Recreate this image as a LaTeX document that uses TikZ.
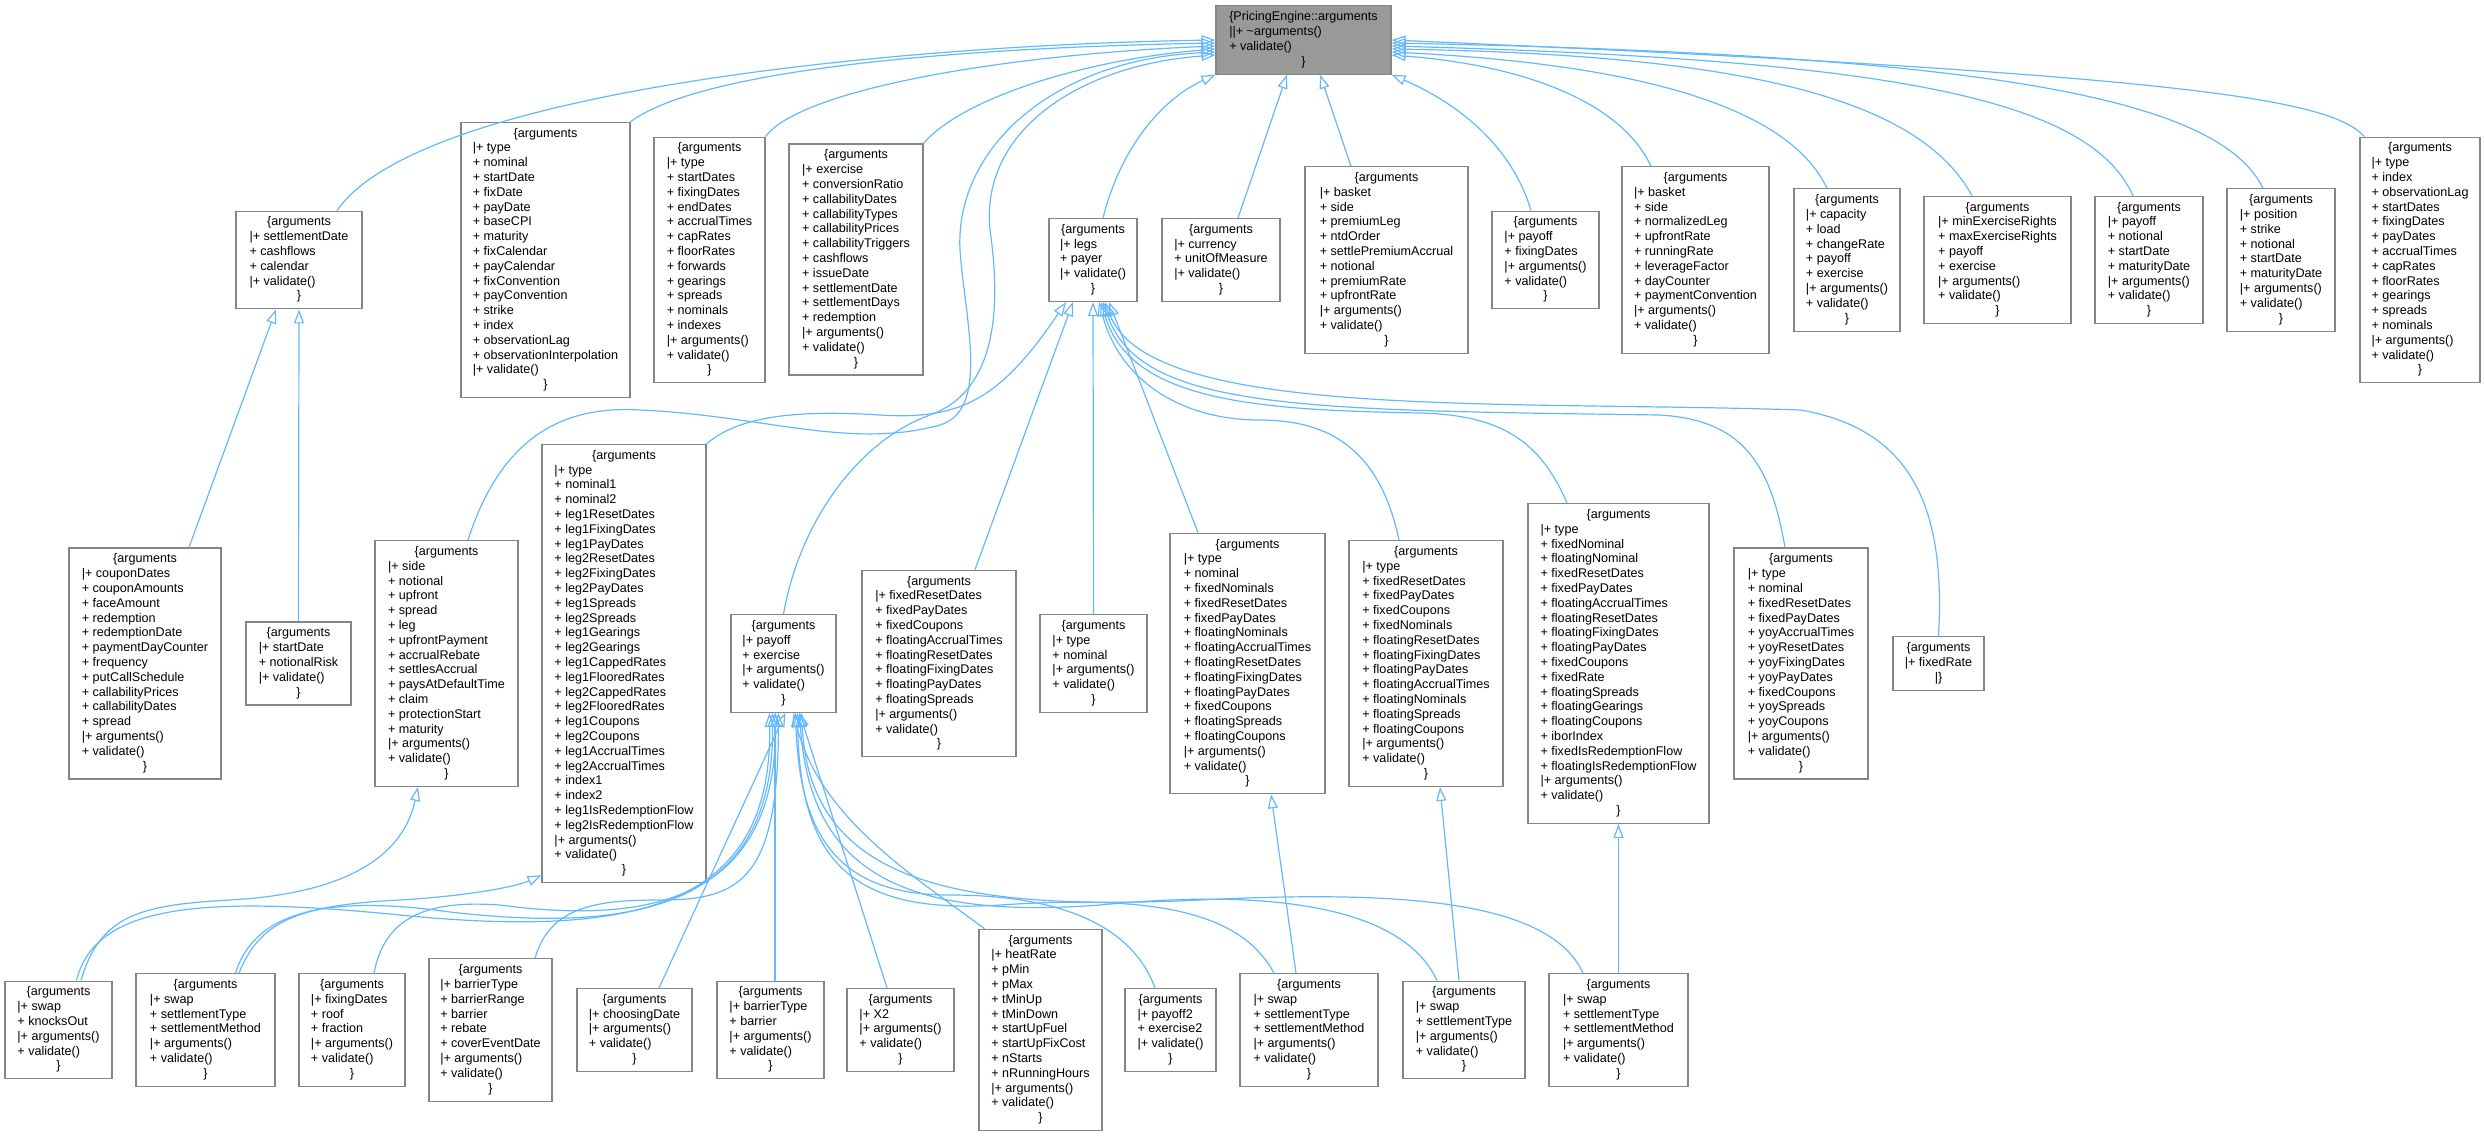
\documentclass[tikz,border=0pt]{standalone}
\usepackage{fontspec}
\setmainfont{Liberation Sans}
\usetikzlibrary{arrows.meta}
\definecolor{edgeblue}{HTML}{63B8FF}
\definecolor{boxgray}{HTML}{858585}
\definecolor{basegray}{HTML}{999999}
\newcommand{\members}[2][\{arguments]{%
  \begin{tabular}{@{}l@{}}\multicolumn{1}{@{}c@{}}{#1}\\#2\\\multicolumn{1}{@{}c@{}}{\}}\end{tabular}}
\begin{document}
\begin{tikzpicture}[x=1pt, y=-1pt,
    klass/.style={draw=boxgray, line width=1.1pt, fill=white, inner xsep=3pt, inner ysep=4.5pt,
        font=\fontsize{12.6}{14.8}\selectfont},
    base/.style={klass, fill=basegray},
    inherit/.style={draw=edgeblue, line width=1.2pt, -{Triangle[open, length=14pt, width=10pt]}}]
    \useasboundingbox (0,0) rectangle (2485,1136);

    %base class
    \node[base, minimum width=175] (root) at (1303.5,40) {\members[\{PricingEngine::arguments]{||+ \textasciitilde arguments()\\+ validate()}};

    %first level
    \node[klass, minimum width=126] (bond) at (299,260) {\members{|+ settlementDate\\+ cashflows\\+ calendar\\|+ validate()}};
    \node[klass, minimum width=169] (cpi) at (545.5,260) {\members{|+ type\\+ nominal\\+ startDate\\+ fixDate\\+ payDate\\+ baseCPI\\+ maturity\\+ fixCalendar\\+ payCalendar\\+ fixConvention\\+ payConvention\\+ strike\\+ index\\+ observationLag\\+ observationInterpolation\\|+ validate()}};
    \node[klass, minimum width=111] (cap) at (709.5,260) {\members{|+ type\\+ startDates\\+ fixingDates\\+ endDates\\+ accrualTimes\\+ capRates\\+ floorRates\\+ forwards\\+ gearings\\+ spreads\\+ nominals\\+ indexes\\|+ arguments()\\+ validate()}};
    \node[klass, minimum width=134] (conv) at (856,259.5) {\members{|+ exercise\\+ conversionRatio\\+ callabilityDates\\+ callabilityTypes\\+ callabilityPrices\\+ callabilityTriggers\\+ cashflows\\+ issueDate\\+ settlementDate\\+ settlementDays\\+ redemption\\|+ arguments()\\+ validate()}};
    \node[klass, minimum width=88] (swap) at (1093,260) {\members{|+ legs\\+ payer\\|+ validate()}};
    \node[klass, minimum width=118] (commodity) at (1221,260) {\members{|+ currency\\+ unitOfMeasure\\|+ validate()}};
    \node[klass, minimum width=163] (cdsBasket) at (1386.5,260) {\members{|+ basket\\+ side\\+ premiumLeg\\+ ntdOrder\\+ settlePremiumAccrual\\+ notional\\+ premiumRate\\+ upfrontRate\\|+ arguments()\\+ validate()}};
    \node[klass, minimum width=107] (pathPayoff) at (1545.5,260) {\members{|+ payoff\\+ fixingDates\\|+ arguments()\\+ validate()}};
    \node[klass, minimum width=147] (basket2) at (1695.5,260) {\members{|+ basket\\+ side\\+ normalizedLeg\\+ upfrontRate\\+ runningRate\\+ leverageFactor\\+ dayCounter\\+ paymentConvention\\|+ arguments()\\+ validate()}};
    \node[klass, minimum width=106] (capacity) at (1847,260) {\members{|+ capacity\\+ load\\+ changeRate\\+ payoff\\+ exercise\\|+ arguments()\\+ validate()}};
    \node[klass, minimum width=147] (minEx) at (1997.5,260) {\members{|+ minExerciseRights\\+ maxExerciseRights\\+ payoff\\+ exercise\\|+ arguments()\\+ validate()}};
    \node[klass, minimum width=108] (payoffN) at (2149,260) {\members{|+ payoff\\+ notional\\+ startDate\\+ maturityDate\\|+ arguments()\\+ validate()}};
    \node[klass, minimum width=108] (position) at (2281,260) {\members{|+ position\\+ strike\\+ notional\\+ startDate\\+ maturityDate\\|+ arguments()\\+ validate()}};
    \node[klass, minimum width=120] (yoyCap) at (2420,260) {\members{|+ type\\+ index\\+ observationLag\\+ startDates\\+ fixingDates\\+ payDates\\+ accrualTimes\\+ capRates\\+ floorRates\\+ gearings\\+ spreads\\+ nominals\\|+ arguments()\\+ validate()}};

    %second level
    \node[klass, minimum width=152] (callable) at (145,663.5) {\members{|+ couponDates\\+ couponAmounts\\+ faceAmount\\+ redemption\\+ redemptionDate\\+ paymentDayCounter\\+ frequency\\+ putCallSchedule\\+ callabilityPrices\\+ callabilityDates\\+ spread\\|+ arguments()\\+ validate()}};
    \node[klass, minimum width=105] (catBond) at (298.5,663.5) {\members{|+ startDate\\+ notionalRisk\\|+ validate()}};
    \node[klass, minimum width=143] (cds) at (446.5,663.5) {\members{|+ side\\+ notional\\+ upfront\\+ spread\\+ leg\\+ upfrontPayment\\+ accrualRebate\\+ settlesAccrual\\+ paysAtDefaultTime\\+ claim\\+ protectionStart\\+ maturity\\|+ arguments()\\+ validate()}};
    \node[klass, minimum width=164] (basis) at (624,663.5) {\members{|+ type\\+ nominal1\\+ nominal2\\+ leg1ResetDates\\+ leg1FixingDates\\+ leg1PayDates\\+ leg2ResetDates\\+ leg2FixingDates\\+ leg2PayDates\\+ leg1Spreads\\+ leg2Spreads\\+ leg1Gearings\\+ leg2Gearings\\+ leg1CappedRates\\+ leg1FlooredRates\\+ leg2CappedRates\\+ leg2FlooredRates\\+ leg1Coupons\\+ leg2Coupons\\+ leg1AccrualTimes\\+ leg2AccrualTimes\\+ index1\\+ index2\\+ leg1IsRedemptionFlow\\+ leg2IsRedemptionFlow\\|+ arguments()\\+ validate()}};
    \node[klass, minimum width=105] (option) at (783.5,663.5) {\members{|+ payoff\\+ exercise\\|+ arguments()\\+ validate()}};
    \node[klass, minimum width=154] (vanilla) at (939,663.5) {\members{|+ fixedResetDates\\+ fixedPayDates\\+ fixedCoupons\\+ floatingAccrualTimes\\+ floatingResetDates\\+ floatingFixingDates\\+ floatingPayDates\\+ floatingSpreads\\|+ arguments()\\+ validate()}};
    \node[klass, minimum width=107] (fvf) at (1093.5,663.5) {\members{|+ type\\+ nominal\\|+ arguments()\\+ validate()}};
    \node[klass, minimum width=155] (nonstd) at (1247.5,663.5) {\members{|+ type\\+ nominal\\+ fixedNominals\\+ fixedResetDates\\+ fixedPayDates\\+ floatingNominals\\+ floatingAccrualTimes\\+ floatingResetDates\\+ floatingFixingDates\\+ floatingPayDates\\+ fixedCoupons\\+ floatingSpreads\\+ floatingCoupons\\|+ arguments()\\+ validate()}};
    \node[klass, minimum width=154] (irregular) at (1426,663.5) {\members{|+ type\\+ fixedResetDates\\+ fixedPayDates\\+ fixedCoupons\\+ fixedNominals\\+ floatingResetDates\\+ floatingFixingDates\\+ floatingPayDates\\+ floatingAccrualTimes\\+ floatingNominals\\+ floatingSpreads\\+ floatingCoupons\\|+ arguments()\\+ validate()}};
    \node[klass, minimum width=181] (big) at (1618.5,663.5) {\members{|+ type\\+ fixedNominal\\+ floatingNominal\\+ fixedResetDates\\+ fixedPayDates\\+ floatingAccrualTimes\\+ floatingResetDates\\+ floatingFixingDates\\+ floatingPayDates\\+ fixedCoupons\\+ fixedRate\\+ floatingSpreads\\+ floatingGearings\\+ floatingCoupons\\+ iborIndex\\+ fixedIsRedemptionFlow\\+ floatingIsRedemptionFlow\\|+ arguments()\\+ validate()}};
    \node[klass, minimum width=134] (yoy) at (1801,663.5) {\members{|+ type\\+ nominal\\+ fixedResetDates\\+ fixedPayDates\\+ yoyAccrualTimes\\+ yoyResetDates\\+ yoyFixingDates\\+ yoyPayDates\\+ fixedCoupons\\+ yoySpreads\\+ yoyCoupons\\|+ arguments()\\+ validate()}};
    \node[klass, minimum width=91] (fixedRate) at (1938.5,663.5) {\begin{tabular}{@{}l@{}}\multicolumn{1}{@{}c@{}}{\{arguments}\\|+ fixedRate\\\multicolumn{1}{@{}c@{}}{|\}}\end{tabular}};

    %third level
    \node[klass, minimum width=107] (b1) at (58.5,1030) {\members{|+ swap\\+ knocksOut\\|+ arguments()\\+ validate()}};
    \node[klass, minimum width=139] (b2) at (205.5,1030) {\members{|+ swap\\+ settlementType\\+ settlementMethod\\|+ arguments()\\+ validate()}};
    \node[klass, minimum width=106] (b3) at (352,1030) {\members{|+ fixingDates\\+ roof\\+ fraction\\|+ arguments()\\+ validate()}};
    \node[klass, minimum width=123] (b4) at (490.5,1030) {\members{|+ barrierType\\+ barrierRange\\+ barrier\\+ rebate\\+ coverEventDate\\|+ arguments()\\+ validate()}};
    \node[klass, minimum width=115] (b5) at (634.5,1030) {\members{|+ choosingDate\\|+ arguments()\\+ validate()}};
    \node[klass, minimum width=107] (b6) at (770.5,1030) {\members{|+ barrierType\\+ barrier\\|+ arguments()\\+ validate()}};
    \node[klass, minimum width=107] (b7) at (900.5,1030) {\members{|+ X2\\|+ arguments()\\+ validate()}};
    \node[klass, minimum width=123] (vpp) at (1040.5,1030) {\members{|+ heatRate\\+ pMin\\+ pMax\\+ tMinUp\\+ tMinDown\\+ startUpFuel\\+ startUpFixCost\\+ nStarts\\+ nRunningHours\\|+ arguments()\\+ validate()}};
    \node[klass, minimum width=91] (compound) at (1170.5,1030) {\members{|+ payoff2\\+ exercise2\\|+ validate()}};
    \node[klass, minimum width=138] (b10) at (1309,1030) {\members{|+ swap\\+ settlementType\\+ settlementMethod\\|+ arguments()\\+ validate()}};
    \node[klass, minimum width=122] (b11) at (1464,1030) {\members{|+ swap\\+ settlementType\\|+ arguments()\\+ validate()}};
    \node[klass, minimum width=139] (b12) at (1618.5,1030) {\members{|+ swap\\+ settlementType\\+ settlementMethod\\|+ arguments()\\+ validate()}};

    %edges to the base class
    \draw[inherit] ([xshift=38pt]bond.north) .. controls (420,90) and (900,45) .. (root.west);
    \draw[inherit] (cpi.north east) .. controls (700,70) and (950,48) .. ([yshift=-3pt]root.west);
    \draw[inherit] (cap.north east) .. controls (800,90) and (1000,55) .. ([yshift=-6pt]root.west);
    \draw[inherit] (conv.north east) .. controls (960,100) and (1080,60) .. ([yshift=-9pt]root.west);
    \draw[inherit] ([xshift=21.5pt]cds.north) .. controls (500,440) and (560,405) .. (640,410) .. controls (760,415) and (850,450) .. (940,425) .. controls (990,410) and (965,320) .. (960,250) .. controls (955,150) and (1050,60) .. ([yshift=-12pt]root.west);
    \draw[inherit] (option.north) .. controls (800,520) and (860,440) .. (930,415) .. controls (1000,390) and (1000,300) .. (990,230) .. controls (980,130) and (1080,65) .. ([yshift=-15pt]root.west);
    \draw[inherit] ([xshift=10pt]swap.north) .. controls (1120,150) and (1160,100) .. (root.south west);
    \draw[inherit] ([xshift=17pt]commodity.north) -- ([xshift=-16.5pt]root.south);
    \draw[inherit] ([xshift=-35.5pt]cdsBasket.north) -- ([xshift=16.5pt]root.south);
    \draw[inherit] ([xshift=-14.5pt]pathPayoff.north) .. controls (1510,140) and (1450,100) .. (root.south east);
    \draw[inherit] ([xshift=-44.5pt]basket2.north) .. controls (1620,100) and (1520,65) .. ([yshift=-15pt]root.east);
    \draw[inherit] ([xshift=-20pt]capacity.north) .. controls (1790,110) and (1650,65) .. ([yshift=-12pt]root.east);
    \draw[inherit] ([xshift=-25.5pt]minEx.north) .. controls (1920,100) and (1750,55) .. ([yshift=-9pt]root.east);
    \draw[inherit] ([xshift=-16pt]payoffN.north) .. controls (2090,100) and (1900,60) .. ([yshift=-6pt]root.east);
    \draw[inherit] ([xshift=-18pt]position.north) .. controls (2220,100) and (2000,55) .. ([yshift=-3pt]root.east);
    \draw[inherit] ([xshift=5pt]yoyCap.north west) .. controls (2330,100) and (2200,75) .. (root.east);

    %edges to swap
    \draw[inherit] (basis.north east) .. controls (740,415) and (800,410) .. (880,415) .. controls (960,420) and (1000,400) .. ([xshift=-27pt]swap.south);
    \draw[inherit] ([xshift=36pt]vanilla.north) -- ([xshift=-20pt]swap.south);
    \draw[inherit] (fvf.north) -- (swap.south);
    \draw[inherit] ([xshift=-49.5pt]nonstd.north) -- ([xshift=16pt]swap.south);
    \draw[inherit] ([xshift=-27pt]irregular.north) .. controls (1380,450) and (1330,420) .. (1260,420) .. controls (1180,420) and (1120,380) .. ([xshift=6pt]swap.south);
    \draw[inherit] ([xshift=-51.5pt]big.north) .. controls (1540,440) and (1500,415) .. (1420,413) .. controls (1250,410) and (1130,400) .. ([xshift=8pt]swap.south);
    \draw[inherit] ([xshift=-16pt]yoy.north) .. controls (1770,460) and (1740,420) .. (1660,415) .. controls (1300,410) and (1140,410) .. ([xshift=10pt]swap.south);
    \draw[inherit] (fixedRate.north) .. controls (1945,520) and (1920,430) .. (1800,410) .. controls (1500,400) and (1150,420) .. ([xshift=12pt]swap.south);

    %edges to bond
    \draw[inherit] ([xshift=44pt]callable.north) -- ([xshift=-23pt]bond.south);
    \draw[inherit] (catBond.north) -- (bond.south);

    %edges to the second level
    \draw[inherit] ([xshift=22.5pt]b1.north) .. controls (100,915) and (140,905) .. (230,900) .. controls (320,895) and (400,870) .. ([xshift=-28.5pt]cds.south);
    \draw[inherit] ([xshift=33.5pt]b2.north) .. controls (260,920) and (300,905) .. (400,900) .. controls (480,895) and (520,885) .. ([yshift=8pt]basis.south west);
    \draw[inherit] ([xshift=18pt]b1.north) .. controls (95,905) and (200,895) .. (400,915) .. controls (650,940) and (772,900) .. ([xshift=-14pt]option.south);
    \draw[inherit] ([xshift=30pt]b2.north) .. controls (255,910) and (330,895) .. (450,912) .. controls (650,935) and (774,900) .. ([xshift=-11pt]option.south);
    \draw[inherit] ([xshift=22pt]b3.north) .. controls (385,915) and (430,900) .. (500,905) .. controls (650,925) and (776,900) .. ([xshift=-8pt]option.south);
    \draw[inherit] ([xshift=44.5pt]b4.north) .. controls (550,905) and (600,900) .. (660,900) .. controls (740,900) and (778,880) .. ([xshift=-5pt]option.south);
    \draw[inherit] ([xshift=24.5pt]b5.north) -- ([xshift=2pt]option.south);
    \draw[inherit] ([xshift=4.5pt]b6.north) -- ([xshift=-8.5pt]option.south);
    \draw[inherit] ([xshift=-13.5pt]b7.north) -- ([xshift=16pt]option.south);
    \draw[inherit] ([xshift=6pt]vpp.north west) .. controls (920,880) and (820,820) .. ([xshift=10pt]option.south);
    \draw[inherit] ([xshift=-15.5pt]compound.north) .. controls (1130,920) and (1050,895) .. (950,895) .. controls (850,895) and (800,850) .. ([xshift=12pt]option.south);
    \draw[inherit] ([xshift=-35pt]b10.north) .. controls (1240,910) and (1150,895) .. (1000,905) .. controls (850,915) and (800,860) .. ([xshift=14pt]option.south);
    \draw[inherit] ([xshift=-27pt]b11.north) .. controls (1400,900) and (1250,890) .. (1100,905) .. controls (900,920) and (810,870) .. ([xshift=16pt]option.south);
    \draw[inherit] ([xshift=-35.5pt]b12.north) .. controls (1550,900) and (1400,890) .. (1200,900) .. controls (950,912) and (810,880) .. ([xshift=18pt]option.south);
    \draw[inherit] ([xshift=-13pt]b10.north) -- ([xshift=23.5pt]nonstd.south);
    \draw[inherit] ([xshift=-5pt]b11.north) -- ([xshift=14pt]irregular.south);
    \draw[inherit] (b12.north) -- (big.south);
\end{tikzpicture}
\end{document}
